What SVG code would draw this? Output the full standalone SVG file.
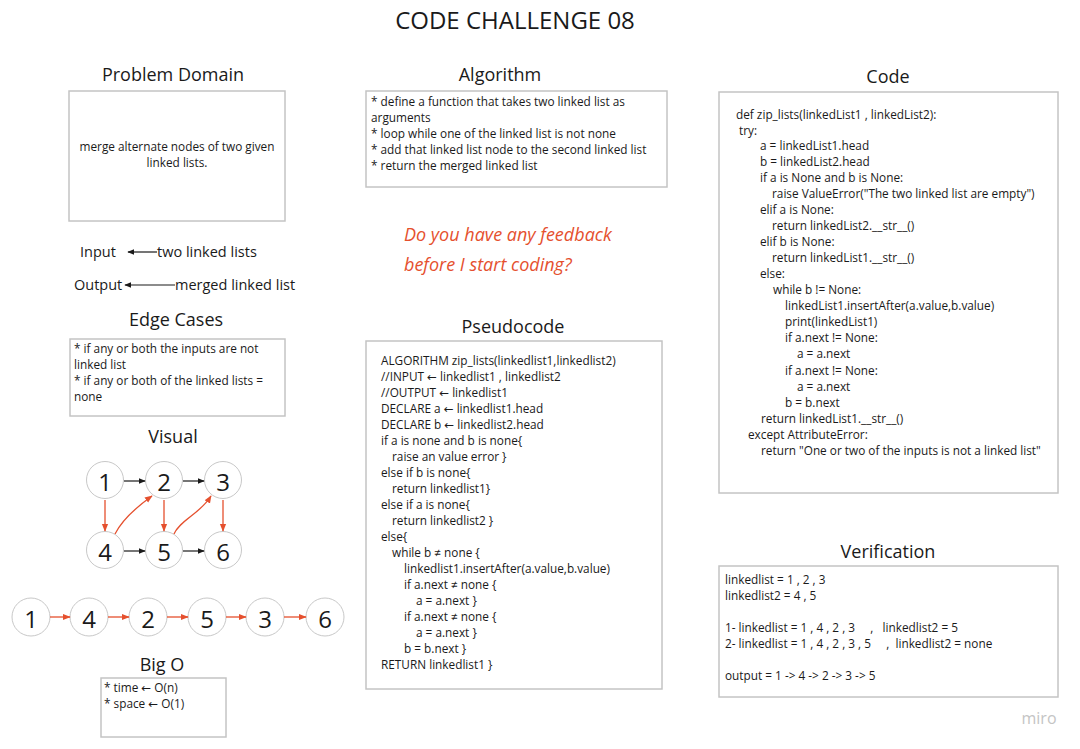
<svg xmlns="http://www.w3.org/2000/svg" width="1080" height="749" viewBox="0 0 1080 749">
<style>
text{font-family:"Open Sans","DejaVu Sans",sans-serif;fill:#1a1a1a}
.h{font-size:18px;text-anchor:middle}
.t{font-size:11.8px}
.box{fill:#fff;stroke:#c4c4c4;stroke-width:1.5}
.c{fill:#fff;stroke:#c8c8c8;stroke-width:1}
.n{font-size:24px;text-anchor:middle;dominant-baseline:central}
.bk{stroke:#1a1a1a;stroke-width:1.2;fill:none}
.rd{stroke:#e5502e;stroke-width:1.3;fill:none}
.hw{font-family:"Open Sans",sans-serif;font-style:italic;font-size:18px;fill:#e5502e}
</style>
<defs>
<marker id="ab" viewBox="0 0 10 10" refX="9" refY="5" markerWidth="6" markerHeight="6" orient="auto-start-reverse"><path d="M0,1 L10,5 L0,9 z" fill="#1a1a1a"/></marker>
<marker id="ar" viewBox="0 0 10 10" refX="9" refY="5" markerWidth="6" markerHeight="6" orient="auto-start-reverse"><path d="M0,1 L10,5 L0,9 z" fill="#e5502e"/></marker>
</defs>
<rect width="1080" height="749" fill="#fff"/>
<text x="515" y="29" style="font-size:24px;text-anchor:middle">CODE CHALLENGE 08</text>

<g id="problem-domain">
<text class="h" x="173" y="81">Problem Domain</text>
<rect class="box" x="69" y="91" width="216" height="130"/>
<text class="t" x="177" y="151" text-anchor="middle">merge alternate nodes of two given</text>
<text class="t" x="177" y="167" text-anchor="middle">linked lists.</text>
</g>

<g id="io">
<text x="80" y="257" style="font-size:14.5px">Input</text>
<text x="157" y="257" style="font-size:14.5px">two linked lists</text>
<text x="74" y="290" style="font-size:14.5px">Output</text>
<text x="175" y="290" style="font-size:14.5px">merged linked list</text>
</g>

<g id="edge-cases">
<text class="h" x="176" y="326">Edge Cases</text>
<rect class="box" x="70" y="339" width="215" height="77"/>
<text class="t" x="74" y="353">* if any or both the inputs are not</text>
<text class="t" x="74" y="369">linked list</text>
<text class="t" x="74" y="385">* if any or both of the linked lists =</text>
<text class="t" x="74" y="401">none</text>
</g>

<g id="visual">
<text class="h" x="173" y="443">Visual</text>
<g id="n1"><circle class="c" cx="105" cy="480" r="18.5"/><text class="n" x="105" y="481">1</text></g>
<g id="n2"><circle class="c" cx="164" cy="480" r="18.5"/><text class="n" x="164" y="481">2</text></g>
<g id="n3"><circle class="c" cx="223" cy="480" r="18.5"/><text class="n" x="223" y="481">3</text></g>
<g id="n4"><circle class="c" cx="105" cy="550" r="18.5"/><text class="n" x="105" y="551">4</text></g>
<g id="n5"><circle class="c" cx="164" cy="550" r="18.5"/><text class="n" x="164" y="551">5</text></g>
<g id="n6"><circle class="c" cx="223" cy="550" r="18.5"/><text class="n" x="223" y="551">6</text></g>
<g id="m1"><circle class="c" cx="31" cy="617" r="19"/><text class="n" x="31" y="618">1</text></g>
<g id="m4"><circle class="c" cx="89" cy="617" r="19"/><text class="n" x="89" y="618">4</text></g>
<g id="m2"><circle class="c" cx="148" cy="617" r="19"/><text class="n" x="148" y="618">2</text></g>
<g id="m5"><circle class="c" cx="207" cy="617" r="19"/><text class="n" x="207" y="618">5</text></g>
<g id="m3"><circle class="c" cx="265" cy="617" r="19"/><text class="n" x="265" y="618">3</text></g>
<g id="m6"><circle class="c" cx="325" cy="617" r="19"/><text class="n" x="325" y="618">6</text></g>
</g>

<g id="connectors">
<line class="bk" x1="157" y1="252" x2="128" y2="252" marker-end="url(#ab)"/>
<line class="bk" x1="175" y1="285" x2="125" y2="285" marker-end="url(#ab)"/>
<line class="bk" x1="124" y1="481" x2="145" y2="481" marker-end="url(#ab)"/>
<line class="bk" x1="183" y1="481" x2="204" y2="481" marker-end="url(#ab)"/>
<line class="bk" x1="124" y1="551" x2="145" y2="551" marker-end="url(#ab)"/>
<line class="bk" x1="183" y1="551" x2="204" y2="551" marker-end="url(#ab)"/>
<line class="rd" x1="105" y1="500" x2="105" y2="531" marker-end="url(#ar)"/>
<line class="rd" x1="164" y1="500" x2="164" y2="531" marker-end="url(#ar)"/>
<line class="rd" x1="223" y1="500" x2="223" y2="531" marker-end="url(#ar)"/>
<path class="rd" d="M115,534 C123,518 138,506 152,496" marker-end="url(#ar)"/>
<path class="rd" d="M174,534 C180,520 200,514 211,496" marker-end="url(#ar)"/>
<line class="rd" x1="50" y1="617" x2="70" y2="617" marker-end="url(#ar)"/>
<line class="rd" x1="108" y1="617" x2="129" y2="617" marker-end="url(#ar)"/>
<line class="rd" x1="167" y1="617" x2="188" y2="617" marker-end="url(#ar)"/>
<line class="rd" x1="226" y1="617" x2="246" y2="617" marker-end="url(#ar)"/>
<line class="rd" x1="284" y1="617" x2="306" y2="617" marker-end="url(#ar)"/>
</g>

<g id="big-o">
<text class="h" x="162" y="671">Big O</text>
<rect class="box" x="101" y="678" width="125" height="59"/>
<text class="t" x="104" y="692">* time ← O(n)</text>
<text class="t" x="104" y="708">* space ← O(1)</text>
</g>

<g id="algorithm">
<text class="h" x="500" y="81">Algorithm</text>
<rect class="box" x="366" y="91" width="301" height="96"/>
<text class="t" x="371" y="106">* define a function that takes two linked list as</text>
<text class="t" x="371" y="122">arguments</text>
<text class="t" x="371" y="138">* loop while one of the linked list is not none</text>
<text class="t" x="371" y="154">* add that linked list node to the second linked list</text>
<text class="t" x="371" y="170">* return the merged linked list</text>
</g>

<g id="feedback">
<text class="hw" x="404" y="241">Do you have any feedback</text>
<text class="hw" x="404" y="271">before I start coding?</text>
</g>

<g id="pseudocode">
<text class="h" x="513" y="333">Pseudocode</text>
<rect class="box" x="366" y="341" width="296" height="348"/>
<text class="t" x="381" y="365">ALGORITHM zip_lists(linkedlist1,linkedlist2)</text>
<text class="t" x="381" y="381">//INPUT ← linkedlist1 , linkedlist2</text>
<text class="t" x="381" y="397">//OUTPUT ← linkedlist1</text>
<text class="t" x="381" y="413">DECLARE a ← linkedlist1.head</text>
<text class="t" x="381" y="429">DECLARE b ← linkedlist2.head</text>
<text class="t" x="381" y="445">if a is none and b is none{</text>
<text class="t" x="392" y="461">raise an value error }</text>
<text class="t" x="381" y="477">else if b is none{</text>
<text class="t" x="392" y="493">return linkedlist1}</text>
<text class="t" x="381" y="509">else if a is none{</text>
<text class="t" x="392" y="525">return linkedlist2 }</text>
<text class="t" x="381" y="541">else{</text>
<text class="t" x="392" y="557">while b ≠ none {</text>
<text class="t" x="404" y="573">linkedlist1.insertAfter(a.value,b.value)</text>
<text class="t" x="404" y="589">if a.next ≠ none {</text>
<text class="t" x="416" y="605">a = a.next }</text>
<text class="t" x="404" y="621">if a.next ≠ none {</text>
<text class="t" x="416" y="637">a = a.next }</text>
<text class="t" x="404" y="653">b = b.next }</text>
<text class="t" x="381" y="669">RETURN linkedlist1 }</text>
</g>

<g id="code">
<text class="h" x="888" y="83">Code</text>
<rect class="box" x="719" y="92" width="339" height="401"/>
<text class="t" x="736" y="119">def zip_lists(linkedList1 , linkedList2):</text>
<text class="t" x="739" y="135">try:</text>
<text class="t" x="760" y="150">a = linkedList1.head</text>
<text class="t" x="760" y="166">b = linkedList2.head</text>
<text class="t" x="760" y="182">if a is None and b is None:</text>
<text class="t" x="772" y="198">raise ValueError("The two linked list are empty")</text>
<text class="t" x="760" y="214">elif a is None:</text>
<text class="t" x="772" y="230">return linkedList2.__str__()</text>
<text class="t" x="760" y="246">elif b is None:</text>
<text class="t" x="772" y="262">return linkedList1.__str__()</text>
<text class="t" x="760" y="278">else:</text>
<text class="t" x="773" y="294">while b != None:</text>
<text class="t" x="785" y="310">linkedList1.insertAfter(a.value,b.value)</text>
<text class="t" x="785" y="326">print(linkedList1)</text>
<text class="t" x="785" y="342">if a.next != None:</text>
<text class="t" x="797" y="358">a = a.next</text>
<text class="t" x="785" y="375">if a.next != None:</text>
<text class="t" x="797" y="391">a = a.next</text>
<text class="t" x="785" y="407">b = b.next</text>
<text class="t" x="761" y="423">return linkedList1.__str__()</text>
<text class="t" x="748" y="439">except AttributeError:</text>
<text class="t" x="761" y="455">return "One or two of the inputs is not a linked list"</text>
</g>

<g id="verification">
<text class="h" x="888" y="558">Verification</text>
<rect class="box" x="719" y="566" width="339" height="131"/>
<text class="t" x="725" y="584">linkedlist = 1 , 2 , 3</text>
<text class="t" x="725" y="600">linkedlist2 = 4 , 5</text>
<text class="t" x="725" y="632" xml:space="preserve">1- linkedlist = 1 , 4 , 2 , 3     ,   linkedlist2 = 5</text>
<text class="t" x="725" y="648" xml:space="preserve">2- linkedlist = 1 , 4 , 2 , 3 , 5     ,  linkedlist2 = none</text>
<text class="t" x="725" y="680">output = 1 -&gt; 4 -&gt; 2 -&gt; 3 -&gt; 5</text>
</g>

<text x="1039" y="724" style="font-size:16px;fill:#c4c4c4;text-anchor:middle">miro</text>
</svg>
